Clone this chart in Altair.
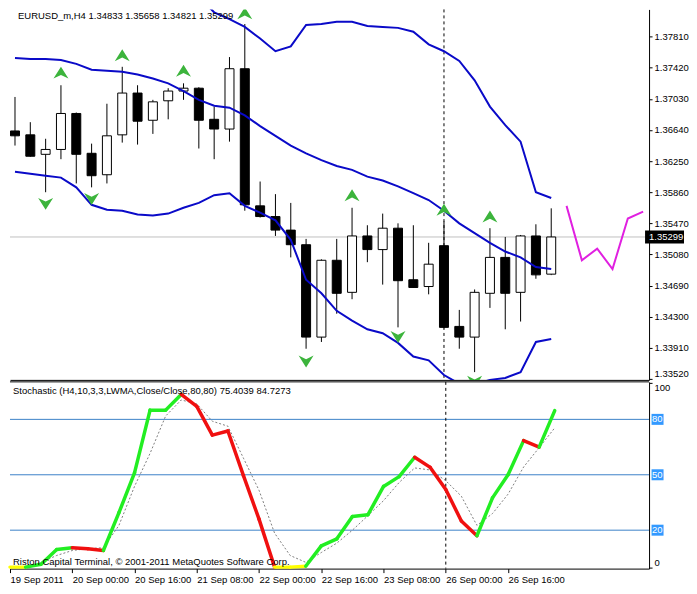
import altair as alt
import pandas as pd

# ---------------- data ----------------
TITLE = "EURUSD_m,H4  1.34833 1.35658 1.34821 1.35299"
STOCH_TITLE = "Stochastic (H4,10,3,3,LWMA,Close/Close,80,80) 75.4039 84.7273"
COPYRIGHT = "Riston Capital Terminal, \u00a9 2001-2011 MetaQuotes Software Corp."

OPEN = [1.36628, 1.36579, 1.36335, 1.36396, 1.36847, 1.36348, 1.36079, 1.36579, 1.37103, 1.36762,
        1.37006, 1.37128, 1.37164, 1.36774, 1.36652, 1.37408, 1.35689, 1.35555, 1.35385, 1.35202,
        1.34044, 1.35007, 1.34605, 1.35312, 1.35141, 1.35409, 1.34763, 1.34678, 1.35190, 1.34178,
        1.34044, 1.34593, 1.35043, 1.34605, 1.35312, 1.34833]
HIGH = [1.37054, 1.36738, 1.36530, 1.37201, 1.36859, 1.36469, 1.36969, 1.37432, 1.37201, 1.37018,
        1.37164, 1.37225, 1.37176, 1.36933, 1.37554, 1.37968, 1.35994, 1.35836, 1.35726, 1.35275,
        1.35019, 1.35275, 1.35665, 1.35446, 1.35592, 1.35470, 1.35446, 1.35226, 1.35494, 1.34385,
        1.34641, 1.35409, 1.35299, 1.35324, 1.35458, 1.35658]
LOW = [1.36445, 1.36305, 1.35860, 1.36274, 1.35970, 1.35921, 1.35970, 1.36482, 1.36457, 1.36591,
       1.36774, 1.37018, 1.36408, 1.36274, 1.36494, 1.35628, 1.35543, 1.35312, 1.35043, 1.33898,
       1.33983, 1.34337, 1.34519, 1.34983, 1.34702, 1.34166, 1.34660, 1.34580, 1.34154, 1.33898,
       1.33605, 1.34410, 1.34142, 1.34239, 1.34775, 1.34821]
CLOSE = [1.36567, 1.36311, 1.36396, 1.36847, 1.36335, 1.36067, 1.36567, 1.37103, 1.36750, 1.36993,
         1.37128, 1.37164, 1.36762, 1.36652, 1.37408, 1.35702, 1.35555, 1.35385, 1.35202, 1.34044,
         1.35007, 1.34593, 1.35312, 1.35141, 1.35409, 1.34751, 1.34666, 1.34958, 1.34166, 1.34044,
         1.34605, 1.35043, 1.34593, 1.35312, 1.34824, 1.35299]
LAST_PRICE = 1.35299

BB_UPPER_START = 12
BB_UPPER = [1.38310, 1.38115, 1.38029, 1.37932, 1.37786, 1.37627, 1.37688, 1.37956, 1.37968, 1.37997,
            1.37997, 1.37944, 1.37932, 1.37920, 1.37871, 1.37713, 1.37627, 1.37505, 1.37262, 1.36933,
            1.36701, 1.36494, 1.35860, 1.35787]
BB_MID = [1.37542, 1.37530, 1.37530, 1.37518, 1.37469, 1.37396, 1.37383, 1.37371, 1.37335, 1.37286,
          1.37225, 1.37128, 1.37018, 1.36945, 1.36920, 1.36823, 1.36689, 1.36567, 1.36445, 1.36348,
          1.36262, 1.36189, 1.36140, 1.36055, 1.36006, 1.35933, 1.35848, 1.35762, 1.35628, 1.35470,
          1.35348, 1.35226, 1.35117, 1.35043, 1.34922, 1.34897]
BB_LOWER = [1.36116, 1.36092, 1.36067, 1.36043, 1.35921, 1.35702, 1.35641, 1.35628, 1.35580, 1.35567,
            1.35592, 1.35665, 1.35726, 1.35823, 1.35848, 1.35689, 1.35604, 1.35507, 1.35263, 1.34763,
            1.34593, 1.34373, 1.34251, 1.34142, 1.34093, 1.33971, 1.33800, 1.33752, 1.33569, 1.33459,
            1.33447, 1.33508, 1.33532, 1.33605, 1.33983, 1.34020]

FORECAST_START = 36
FORECAST = [1.35689, 1.35007, 1.35153, 1.34897, 1.35531, 1.35616]

UP_ARROW_BARS = [3, 7, 11, 15, 22, 28, 31]
UP_ARROW_PRICES = [1.37359, 1.37578, 1.37383, 1.38103, 1.35823, 1.35641, 1.35555]
DOWN_ARROW_BARS = [2, 5, 19, 25, 30]
DOWN_ARROW_PRICES = [1.35714, 1.35775, 1.33739, 1.34044, 1.33483]

STOCH_MAIN = [0, 0, 1.6, 9.5, 10.5, 10, 9, 29.5, 51, 85, 85, 93.5, 87, 71.5, 73.7, 49.5, 26, 0,
              0, 0.5, 11.5, 15.3, 27.4, 28.4, 43.7, 49, 59.5, 54, 42, 25, 17, 37.5, 50, 68.5,
              65, 84.7273]
STOCH_SIGNAL = [0, 0, 2.6, 6.3, 9, 10, 10.5, 22.6, 43.7, 61.6, 81.8, 90.5, 88.4, 79, 76.3, 59, 41.6,
                18.4, 6.3, 2.6, 7.9, 13, 20, 27.9, 36, 45.8, 53.7, 52.6, 46.8, 38.4, 22.6, 29,
                39.5, 54.2, 64.7, 75.4039]
# colour of each main-line segment: g = rising, r = falling, y = flat at the bottom
STOCH_SEG = ["y", "g", "g", "g", "r", "r", "g", "g", "g", "g", "g", "r", "r", "r", "r", "r", "r",
             "y", "y", "g", "g", "g", "g", "g", "g", "g", "r", "r", "r", "r", "g", "g", "g", "r", "g"]
STOCH_LEVELS = [20, 50, 80]
STOCH_TICKS = [0, 100]

TIME_TICKS = [0, 4, 8, 12, 16, 20, 24, 28, 32]
TIME_LABELS = ["19 Sep 2011", "20 Sep 00:00", "20 Sep 16:00", "21 Sep 08:00", "22 Sep 00:00",
               "22 Sep 16:00", "23 Sep 08:00", "26 Sep 00:00", "26 Sep 16:00"]
PRICE_TICKS = [1.33520, 1.33910, 1.34300, 1.34690, 1.35080, 1.35470, 1.35860, 1.36250,
               1.36640, 1.37030, 1.37420, 1.37810]
MARKER_BAR = 28

# ---------------- layout / style ----------------
XDOM = [0, 41.06]
PDOM = [1.335078, 1.381513]
SDOM = [-0.8, 100.3]
W, H1, H2 = 640, 371, 187
FONT = "Liberation Sans"
FS = 9.5
BAND_COLOR = "#0a0ac8"
ARROW_COLOR = "#3cb43c"
UP_PATH = "M0,-0.8L1,0.8L0,0.3L-1,0.8Z"
DOWN_PATH = "M0,0.8L1,-0.8L0,-0.3L-1,-0.8Z"

xs = alt.Scale(domain=XDOM, nice=False, zero=False)
ps = alt.Scale(domain=PDOM, nice=False, zero=False)
ss = alt.Scale(domain=SDOM, nice=False, zero=False)

MX_AXIS = alt.Axis(labels=False, ticks=False, grid=False, domainColor="black", title=None)
PRICE_AXIS = alt.Axis(orient="right", values=PRICE_TICKS, format=".5f", tickSize=3, labelPadding=2,
                      labelFlush=3, domainColor="black", tickColor="black", grid=False, title=None,
                      labelColor="black", labelFont=FONT, labelFontSize=FS)
labels_js = "[" + ",".join("'" + s + "'" for s in TIME_LABELS) + "]"
ticks_js = "[" + ",".join(str(t) for t in TIME_TICKS) + "]"
SX_AXIS = alt.Axis(values=TIME_TICKS, labelExpr=f"{labels_js}[indexof({ticks_js}, datum.value)]",
                   labelAlign="left", labelBaseline="top", labelPadding=2, tickSize=4,
                   tickColor="black", domainColor="black", grid=False, title=None,
                   labelOverlap=False, labelColor="black", labelFont=FONT, labelFontSize=FS)
STOCH_AXIS = alt.Axis(orient="right", values=STOCH_TICKS, tickSize=3, labelPadding=2, labelFlush=3,
                      domainColor="black", tickColor="black", grid=False, title=None,
                      labelColor="black", labelFont=FONT, labelFontSize=FS)


def PX():
    return alt.X("i:Q", scale=xs, axis=MX_AXIS)


def PY(f="p"):
    return alt.Y(f + ":Q", scale=ps, axis=PRICE_AXIS)


def SX():
    return alt.X("i:Q", scale=xs, axis=SX_AXIS)


def SY(f="s"):
    return alt.Y(f + ":Q", scale=ss, axis=STOCH_AXIS)


n = len(OPEN)
cdf = pd.DataFrame({"i": list(range(n)), "low": LOW, "high": HIGH,
                    "top": [max(o, c) for o, c in zip(OPEN, CLOSE)],
                    "bot": [min(o, c) for o, c in zip(OPEN, CLOSE)],
                    "dir": ["up" if c >= o else "down" for o, c in zip(OPEN, CLOSE)]})

band_rows = []
for k, v in enumerate(BB_UPPER):
    band_rows.append({"band": "upper", "i": BB_UPPER_START + k, "p": v})
for k, v in enumerate(BB_MID):
    band_rows.append({"band": "mid", "i": k, "p": v})
for k, v in enumerate(BB_LOWER):
    band_rows.append({"band": "lower", "i": k, "p": v})
bdf = pd.DataFrame(band_rows)

fdf = pd.DataFrame({"i": [FORECAST_START + k for k in range(len(FORECAST))], "p": FORECAST})
updf = pd.DataFrame({"i": UP_ARROW_BARS, "p": UP_ARROW_PRICES})
dndf = pd.DataFrame({"i": DOWN_ARROW_BARS, "p": DOWN_ARROW_PRICES})
lastdf = pd.DataFrame({"i": [XDOM[1]], "i2": [XDOM[1]], "p": [LAST_PRICE], "t": [f"{LAST_PRICE:.5f}"]})
markdf = pd.DataFrame({"i": [MARKER_BAR]})
titledf = pd.DataFrame({"i": [XDOM[0]], "p": [PDOM[1]], "t": [TITLE]})

last_line = alt.Chart(lastdf).mark_rule(color="#c0c0c0", strokeWidth=1).encode(y=PY())
marker_main = alt.Chart(markdf).mark_rule(color="black", strokeDash=[3, 3], strokeWidth=1).encode(x=PX())
wicks = alt.Chart(cdf).mark_rule(color="black", strokeWidth=1, clip=True).encode(
    x=PX(), y=PY("low"), y2="high")
bodies = alt.Chart(cdf).mark_bar(size=9, stroke="black", strokeWidth=1, clip=True).encode(
    x=PX(), y=PY("top"), y2="bot",
    fill=alt.Fill("dir:N", scale=alt.Scale(domain=["up", "down"], range=["white", "black"]), legend=None))
bands = alt.Chart(bdf).mark_line(color=BAND_COLOR, strokeWidth=2, clip=True).encode(
    x=PX(), y=PY(), detail="band:N")
forecast = alt.Chart(fdf).mark_line(color="#e020e0", strokeWidth=2, clip=True).encode(x=PX(), y=PY())
up_arrows = alt.Chart(updf).mark_point(shape=UP_PATH, size=225, filled=True, color=ARROW_COLOR,
                                       opacity=1, clip=True).encode(x=PX(), y=PY())
dn_arrows = alt.Chart(dndf).mark_point(shape=DOWN_PATH, size=225, filled=True, color=ARROW_COLOR,
                                       opacity=1, clip=True).encode(x=PX(), y=PY())
title_txt = alt.Chart(titledf).mark_text(align="left", baseline="top", dx=3, dy=2, font=FONT,
                                         fontSize=FS, color="black").encode(x=PX(), y=PY(), text="t:N")
price_box = alt.Chart(lastdf).mark_rect(color="black", xOffset=1, x2Offset=40, yOffset=-6.5,
                                        y2Offset=6.5).encode(x=PX(), x2="i2", y=PY(), y2="p")
price_txt = alt.Chart(lastdf).mark_text(align="left", baseline="middle", dx=5, font=FONT, fontSize=FS,
                                        color="white").encode(x=PX(), y=PY(), text="t:N")

main = alt.layer(last_line, marker_main, wicks, bodies, bands, forecast, up_arrows, dn_arrows,
                 title_txt, price_box, price_txt).properties(width=W, height=H1)

# ---------------- stochastic panel ----------------
sig_df = pd.DataFrame({"i": list(range(len(STOCH_SIGNAL))), "s": STOCH_SIGNAL})
seg_df = pd.DataFrame({"i": list(range(len(STOCH_SEG))),
                       "i2": list(range(1, len(STOCH_SEG) + 1)),
                       "s": STOCH_MAIN[:-1], "s2": STOCH_MAIN[1:], "c": STOCH_SEG})
lvl_df = pd.DataFrame({"i": [XDOM[1]] * len(STOCH_LEVELS), "i2": [XDOM[1]] * len(STOCH_LEVELS),
                       "s": STOCH_LEVELS, "t": [str(v) for v in STOCH_LEVELS]})
border_df = pd.DataFrame({"s": [SDOM[1]]})
stitle_df = pd.DataFrame({"i": [XDOM[0]], "s": [SDOM[1]], "t": [STOCH_TITLE]})
copy_df = pd.DataFrame({"i": [XDOM[0]], "s": [SDOM[0]], "t": [COPYRIGHT]})

levels = alt.Chart(lvl_df).mark_rule(color="#3c82c8", strokeWidth=1).encode(y=SY())
marker_st = alt.Chart(markdf).mark_rule(color="black", strokeDash=[3, 3], strokeWidth=1).encode(x=SX())
signal = alt.Chart(sig_df).mark_line(color="#808080", strokeDash=[2, 2], strokeWidth=1).encode(
    x=SX(), y=SY())
main_k = alt.Chart(seg_df).mark_rule(strokeWidth=3.5, strokeCap="round").encode(
    x=SX(), x2="i2", y=SY(), y2="s2",
    color=alt.Color("c:N", scale=alt.Scale(domain=["g", "r", "y"],
                                           range=["#22ee22", "#f01010", "#ffff00"]), legend=None))
top_border = alt.Chart(border_df).mark_rule(color="black", strokeWidth=1).encode(y=SY())
stitle = alt.Chart(stitle_df).mark_text(align="left", baseline="top", dx=3, dy=4, font=FONT,
                                        fontSize=FS, color="black").encode(x=SX(), y=SY(), text="t:N")
copy_txt = alt.Chart(copy_df).mark_text(align="left", baseline="bottom", dx=3, dy=-2, font=FONT,
                                        fontSize=FS, color="black").encode(x=SX(), y=SY(), text="t:N")
lvl_box = alt.Chart(lvl_df).mark_rect(color="#3399ff", xOffset=2.5, x2Offset=14.5, yOffset=-5.5,
                                      y2Offset=5.5).encode(x=SX(), x2="i2", y=SY(), y2="s")
lvl_txt = alt.Chart(lvl_df).mark_text(align="left", baseline="middle", dx=3, font=FONT, fontSize=FS,
                                      color="white").encode(x=SX(), y=SY(), text="t:N")

stoch = alt.layer(levels, marker_st, signal, main_k, top_border, stitle, copy_txt, lvl_box,
                  lvl_txt).properties(width=W, height=H2)

chart = alt.vconcat(main, stoch, spacing=2, bounds="flush").properties(
    padding={"left": 0, "top": 0, "right": 0, "bottom": 0}
).configure_view(stroke=None).configure_text(font=FONT)

chart.save("out.html", embed_options={"renderer": "svg", "actions": False})
